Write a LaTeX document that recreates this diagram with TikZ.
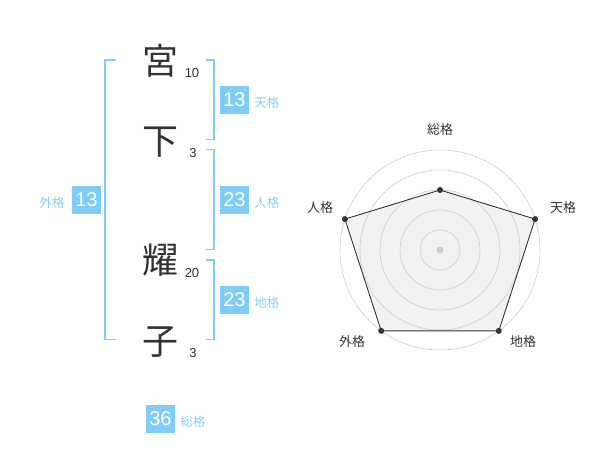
\documentclass[tikz,border=0pt]{standalone}
\usepackage{fontspec}
\setmainfont{Liberation Sans}
\newfontfamily\cjk{Noto Sans CJK JP}
\usepackage{tikz}
\usetikzlibrary{positioning}
\definecolor{skyblue}{HTML}{80CCF8}
\definecolor{skylabel}{HTML}{8ACFF3}
\definecolor{ink}{HTML}{333333}
\definecolor{ringgray}{HTML}{CCCCCC}
\definecolor{areagray}{HTML}{F2F2F2}

\begin{document}
\begin{tikzpicture}[
			x=1pt, y=-1pt,
			kanji/.style={inner sep=0pt, text=ink, font=\cjk\fontsize{36}{36}\selectfont},
			strokes/.style={inner sep=0pt, text=ink, font=\fontsize{13}{13}\selectfont},
			score/.style={
					fill=skyblue, text=white, inner sep=0pt,
					minimum width=29pt, minimum height=28pt,
					font=\fontsize{20}{20}\selectfont
				},
			kaku/.style={inner sep=0pt, text=skylabel, font=\cjk\fontsize{12.5}{12.5}\selectfont},
			bracket/.style={draw=skyblue, line width=1.5pt},
			gridring/.style={draw=ringgray, line width=0.6pt},
			axis/.style={inner sep=0pt, text=ink, font=\cjk\fontsize{13}{13}\selectfont}
		]
		\useasboundingbox (0,0) rectangle (600,470);

		% name
		\node[kanji] (miya) at (160,61) {宮};
		\node[kanji] (shita) at (160,142) {下};
		\node[kanji] (you) at (160,260) {耀};
		\node[kanji] (ko) at (160,342) {子};
		\node[strokes] (miya-n) at (192,73) {10};
		\node[strokes] (shita-n) at (193,153) {3};
		\node[strokes] (you-n) at (192,273) {20};
		\node[strokes] (ko-n) at (193,353) {3};

		\draw[bracket] (116,60) -- (105,60) -- (105,339.5) -- (116,339.5);
		\draw[bracket] (205.5,60) -- (214,60) -- (214,139.5) -- (205.5,139.5);
		\draw[bracket] (205.5,149.5) -- (214,149.5) -- (214,249.5) -- (205.5,249.5);
		\draw[bracket] (205.5,260) -- (214,260) -- (214,339.5) -- (205.5,339.5);

		\node[score] (ten) at (234.5,100) {13};
		\node[kaku, right=5pt of ten, yshift=-3pt] (ten-l) {天格};
		\node[score] (jin) at (234.5,200) {23};
		\node[kaku, right=5pt of jin, yshift=-3pt] (jin-l) {人格};
		\node[score] (chi) at (234.5,300) {23};
		\node[kaku, right=5pt of chi, yshift=-3pt] (chi-l) {地格};
		\node[score] (gai) at (86.5,200) {13};
		\node[kaku, left=7pt of gai, yshift=-3pt] (gai-l) {外格};
		\node[score] (sou) at (160.5,419) {36};
		\node[kaku, right=5pt of sou, yshift=-3pt] (sou-l) {総格};

		% radar
		\begin{scope}[shift={(440,250)}]
			\coordinate (v-sou) at (-90:60);
			\coordinate (v-ten) at (-18:100);
			\coordinate (v-chi) at (54:100);
			\coordinate (v-gai) at (126:100);
			\coordinate (v-jin) at (198:100);
			\fill[areagray] (v-sou) -- (v-ten) -- (v-chi) -- (v-gai) -- (v-jin) -- cycle;
			\foreach \r in {20,40,60,80,100}
			\draw[gridring] (0,0) circle[radius=\r pt];
			\fill[ringgray] (0,0) circle[radius=3.5pt];
			\draw[ink, line width=0.9pt]
			(v-sou) -- (v-ten) -- (v-chi) -- (v-gai) -- (v-jin) -- cycle;
			\foreach \v in {sou,ten,chi,gai,jin}
			\fill[ink] (v-\v) circle[radius=3pt];
			\node[axis] (a-sou) at (0,-120) {総格};
			\node[axis] (a-ten) at (123,-42) {天格};
			\node[axis] (a-chi) at (83,92) {地格};
			\node[axis] (a-gai) at (-88,92) {外格};
			\node[axis] (a-jin) at (-120,-42) {人格};
		\end{scope}
	\end{tikzpicture}
\end{document}
